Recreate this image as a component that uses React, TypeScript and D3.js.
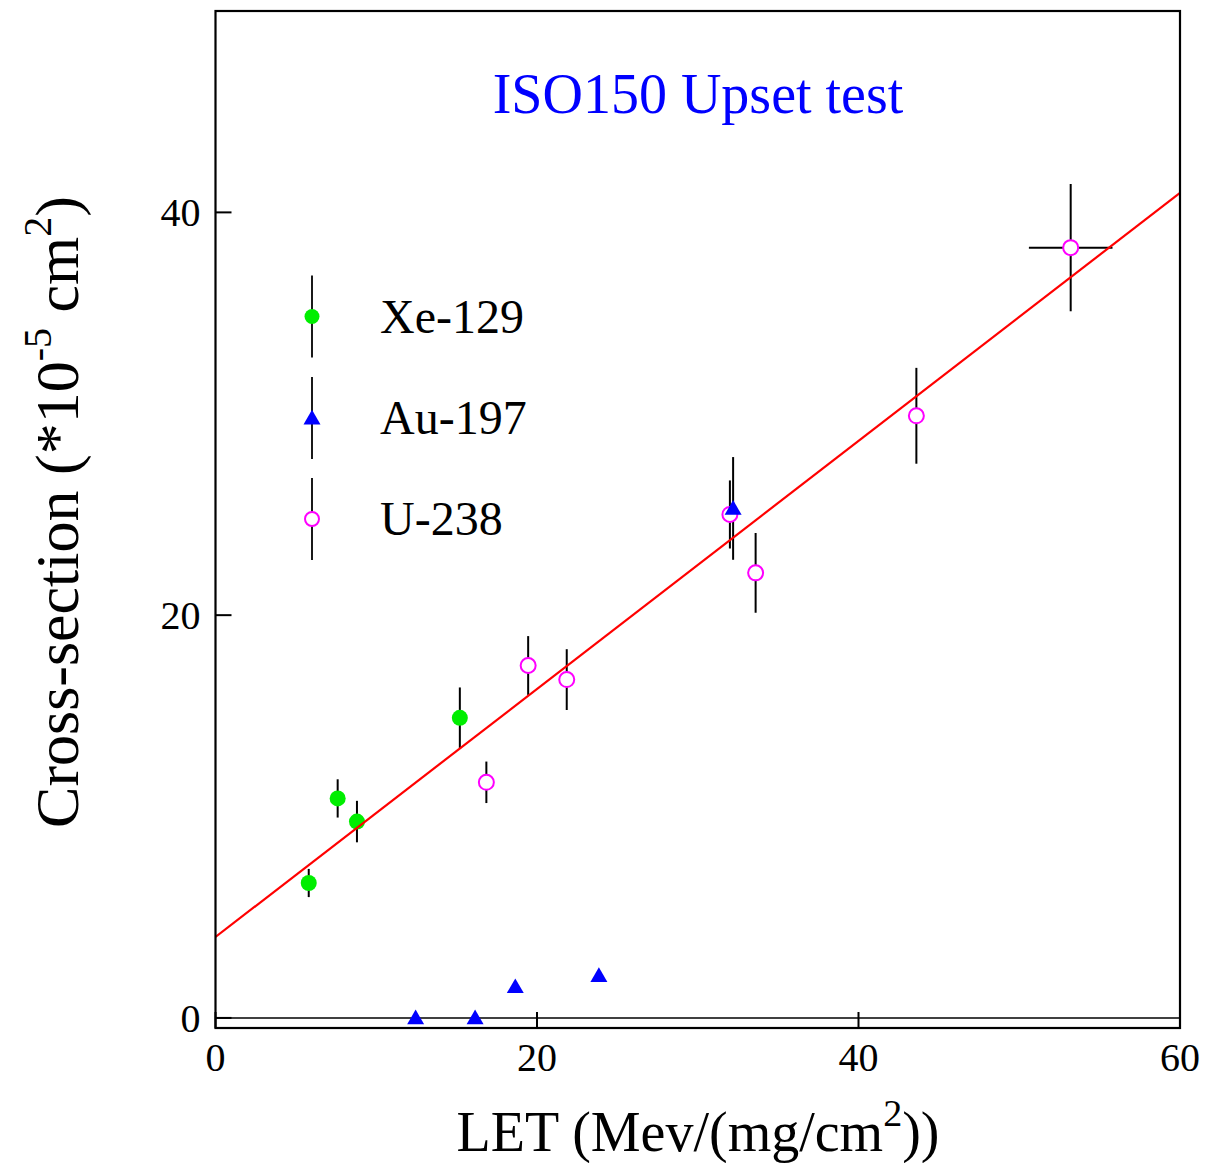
import React from "react";
import * as d3 from "d3";

// ---- Data ----
const xeLET = [5.8, 7.6, 8.8, 15.2];
const xeSigma = [6.7, 10.9, 9.75, 14.9];
const xeErr = [0.7, 0.95, 1.03, 1.51];

const auLET = [12.45, 16.15, 18.65, 23.85, 32.2];
const auSigma = [0, 0, 1.55, 2.1, 25.3];
const auErr = [0, 0, 0, 0, 2.55];

const uLET = [16.85, 19.45, 21.85, 32.0, 33.6, 43.6, 53.2];
const uSigma = [11.7, 17.5, 16.8, 25.0, 22.1, 29.9, 38.25];
const uErr = [1.03, 1.46, 1.51, 1.69, 1.98, 2.38, 3.16];
const uLETErr = [0, 0, 0, 0, 0, 0, 2.6];

const fitIntercept = 4.02;
const fitSlope = 0.6158;

const xTicks = [0, 20, 40, 60];
const yTicks = [0, 20, 40];

const legendLabels = ["Xe-129", "Au-197", "U-238"];

const FONT = "'Liberation Serif', 'Times New Roman', serif";

export default function App() {
  const W = 1205, H = 1163;
  const left = 215.5, right = 1180, top = 11, bottom = 1028;
  const x = d3.scaleLinear().domain([0, 60]).range([left, right]);
  const y = d3.scaleLinear().domain([-0.5, 50]).range([bottom, top]);

  const fitLine = d3.line<number>()
    .x((d) => x(d))
    .y((d) => y(fitIntercept + fitSlope * d));

  const tri = d3.symbol().type(d3.symbolTriangle).size(125)();

  const errBar = (xv: number, yv: number, e: number, key: string) =>
    e > 0 ? (
      <line key={key} x1={x(xv)} x2={x(xv)} y1={y(yv - e)} y2={y(yv + e)} stroke="#000" strokeWidth={2} />
    ) : null;

  const legendX = 312;
  const legendRows = [316.5, 418, 519];

  return (
    <svg width={W} height={H} style={{ position: "absolute", left: 0, top: 0, background: "#fff" }}>
      <rect x={0} y={0} width={W} height={H} fill="#fff" />
      <defs>
        <clipPath id="plotClip">
          <rect x={left} y={top} width={right - left} height={bottom - top} />
        </clipPath>
      </defs>

      {/* zero line */}
      <line x1={left} x2={right} y1={y(0)} y2={y(0)} stroke="#000" strokeWidth={1.6} />

      {/* ticks */}
      {yTicks.map((t) => (
        <line key={"yt" + t} x1={left} x2={left + 16} y1={y(t)} y2={y(t)} stroke="#000" strokeWidth={2} />
      ))}
      {xTicks.map((t) => (
        <line key={"xt" + t} x1={x(t)} x2={x(t)} y1={bottom} y2={bottom - 16} stroke="#000" strokeWidth={2} />
      ))}

      {/* tick labels */}
      {yTicks.map((t) => (
        <text key={"yl" + t} x={left - 15} y={y(t) + 14} textAnchor="end" fontFamily={FONT} fontSize={40} fill="#000">
          {t}
        </text>
      ))}
      {xTicks.map((t) => (
        <text key={"xl" + t} x={x(t)} y={1071} textAnchor="middle" fontFamily={FONT} fontSize={40} fill="#000">
          {t}
        </text>
      ))}

      <g clipPath="url(#plotClip)">
        {/* error bars */}
        {xeLET.map((v, i) => errBar(v, xeSigma[i], xeErr[i], "xe" + i))}
        {auLET.map((v, i) => errBar(v, auSigma[i], auErr[i], "au" + i))}
        {uLET.map((v, i) => errBar(v, uSigma[i], uErr[i], "u" + i))}
        {uLET.map((v, i) =>
          uLETErr[i] > 0 ? (
            <line key={"ux" + i} x1={x(v - uLETErr[i])} x2={x(v + uLETErr[i])} y1={y(uSigma[i])} y2={y(uSigma[i])} stroke="#000" strokeWidth={2} />
          ) : null
        )}

        {/* markers */}
        {xeLET.map((v, i) => (
          <circle key={"xem" + i} cx={x(v)} cy={y(xeSigma[i])} r={8} fill="#00ee00" />
        ))}
        {uLET.map((v, i) => (
          <circle key={"um" + i} cx={x(v)} cy={y(uSigma[i])} r={7.5} fill="#fff" stroke="#ff00ff" strokeWidth={2} />
        ))}
        {auLET.map((v, i) => (
          <path key={"aum" + i} d={tri!} transform={`translate(${x(v)},${y(auSigma[i]) + 1.5})`} fill="#0000ff" />
        ))}

        {/* fit line */}
        <path d={fitLine([0, 60])!} fill="none" stroke="#ff0000" strokeWidth={2.2} />
      </g>

      {/* frame */}
      <rect x={left} y={top} width={right - left} height={bottom - top} fill="none" stroke="#000" strokeWidth={2.2} />

      {/* legend */}
      {legendRows.map((ry, i) => (
        <line key={"lb" + i} x1={legendX} x2={legendX} y1={ry - 41} y2={ry + 41} stroke="#000" strokeWidth={1.8} />
      ))}
      <circle cx={legendX} cy={legendRows[0]} r={7.5} fill="#00ee00" />
      <path d={tri!} transform={`translate(${legendX},${legendRows[1] + 1.5})`} fill="#0000ff" />
      <circle cx={legendX} cy={legendRows[2]} r={7} fill="#fff" stroke="#ff00ff" strokeWidth={2} />
      {legendLabels.map((l, i) => (
        <text key={"ll" + i} x={380} y={legendRows[i] + 16} fontFamily={FONT} fontSize={48} fill="#000">
          {l}
        </text>
      ))}

      {/* title */}
      <text x={698} y={113} textAnchor="middle" fontFamily={FONT} fontSize={56} fill="#0000ff">
        ISO150 Upset test
      </text>

      {/* x axis title */}
      <text x={698} y={1151} textAnchor="middle" fontFamily={FONT} fontSize={56} fill="#000">
        LET (Mev/(mg/cm
        <tspan fontSize={38} dy={-25}>2</tspan>
        <tspan dy={25}>))</tspan>
      </text>

      {/* y axis title */}
      <text transform={`translate(78,512) rotate(-90)`} textAnchor="middle" fontFamily={FONT} fontSize={62} fill="#000">
        Cross-section (*10
        <tspan fontSize={40} dy={-27}>-5</tspan>
        <tspan dy={27}> cm</tspan>
        <tspan fontSize={40} dy={-27}>2</tspan>
        <tspan dy={27}>)</tspan>
      </text>
    </svg>
  );
}
